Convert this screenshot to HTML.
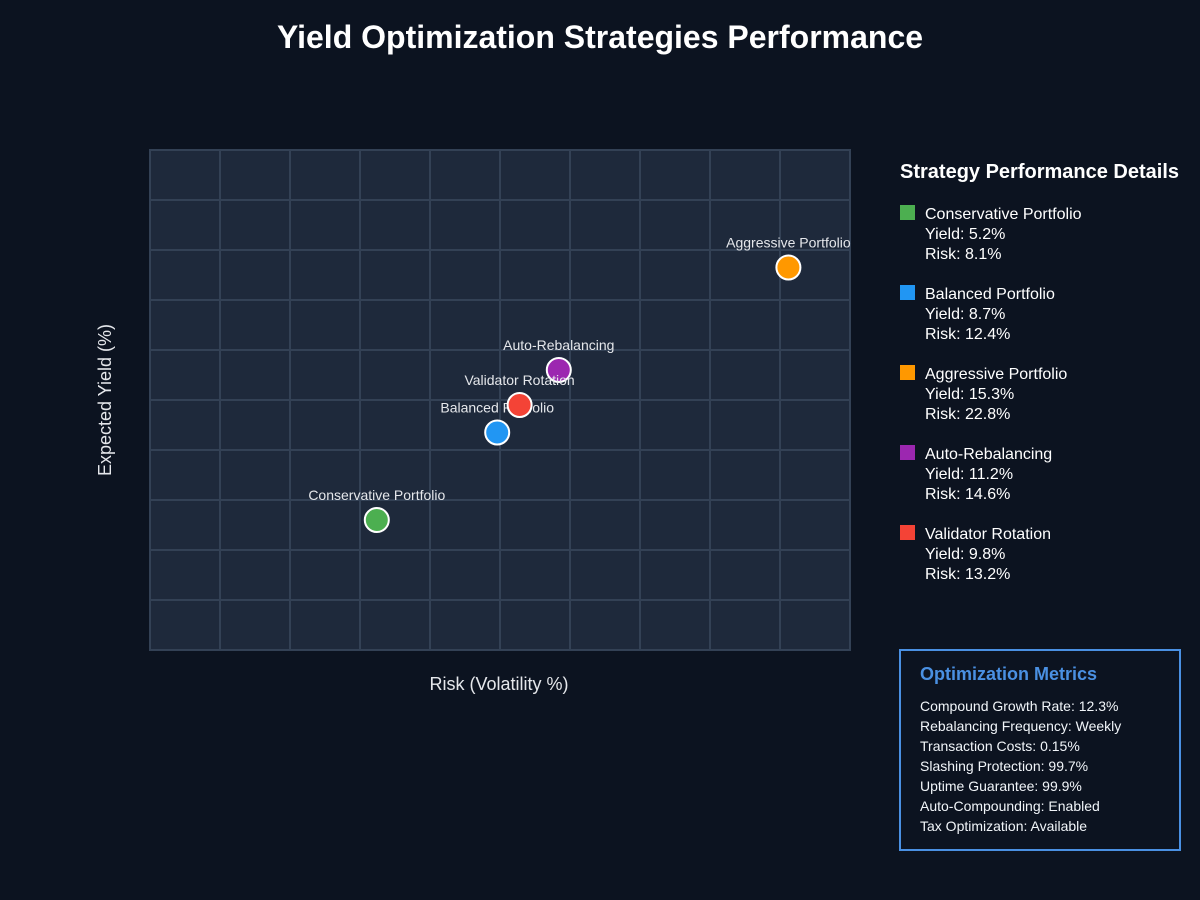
<!DOCTYPE html>
<html><head><meta charset="utf-8"><style>
body{margin:0;width:1200px;height:900px;background:#0c1320;font-family:"Liberation Sans",sans-serif;color:#fff;position:relative;overflow:hidden}
.t{position:absolute}
</style></head><body>
<div class="t" style="left:0;width:1200px;top:19px;text-align:center;font-size:32px;font-weight:bold">Yield Optimization Strategies Performance</div>
<svg class="t" style="left:0;top:0" width="1200" height="900">
<rect x="150" y="150" width="700" height="500" fill="#1e293b" stroke="#334155" stroke-width="2"/>
<g id="grid"></g>
<g id="pts"></g>
<text x="499" y="690" text-anchor="middle" font-size="18" fill="#e5e7eb">Risk (Volatility %)</text>
<text x="111" y="400" text-anchor="middle" font-size="18" fill="#e5e7eb" transform="rotate(-90 111 400)">Expected Yield (%)</text>
</svg>
<div class="t" style="left:900px;top:161px;font-size:20px;font-weight:bold">Strategy Performance Details</div>
<div id="legend"></div>
<div class="t" style="left:899px;top:649px;width:278px;height:198px;border:2px solid #4a90e2;background:#0c1320">
<div style="position:absolute;left:19px;top:13px;font-size:18px;font-weight:bold;color:#4a90e2">Optimization Metrics</div>
<div style="position:absolute;left:19px;top:45px;font-size:14px;line-height:20px;color:#f1f5f9">Compound Growth Rate: 12.3%<br>Rebalancing Frequency: Weekly<br>Transaction Costs: 0.15%<br>Slashing Protection: 99.7%<br>Uptime Guarantee: 99.9%<br>Auto-Compounding: Enabled<br>Tax Optimization: Available</div>
</div>
<script>
const names=["Conservative Portfolio","Balanced Portfolio","Aggressive Portfolio","Auto-Rebalancing","Validator Rotation"];
const yields=[5.2,8.7,15.3,11.2,9.8];
const risks=[8.1,12.4,22.8,14.6,13.2];
const colors=["#4caf50","#2196f3","#ff9800","#9c27b0","#f44336"];
const NS="http://www.w3.org/2000/svg";
const xs=v=>150+v/25*700, ys=v=>650-v/20*500;
const g=document.getElementById('grid');
for(let i=1;i<10;i++){
 let l=document.createElementNS(NS,'line');l.setAttribute('x1',150+i*70);l.setAttribute('x2',150+i*70);l.setAttribute('y1',150);l.setAttribute('y2',650);l.setAttribute('stroke','#334155');l.setAttribute('stroke-width','2');
 
 g.appendChild(l);
 let h=document.createElementNS(NS,'line');h.setAttribute('y1',150+i*50);h.setAttribute('y2',150+i*50);h.setAttribute('x1',150);h.setAttribute('x2',850);h.setAttribute('stroke','#334155');h.setAttribute('stroke-width','2');
 
 g.appendChild(h);
}
const p=document.getElementById('pts');
names.forEach((n,i)=>{
 const c=document.createElementNS(NS,'circle');c.setAttribute('cx',xs(risks[i]));c.setAttribute('cy',ys(yields[i]));c.setAttribute('r',12);c.setAttribute('fill',colors[i]);c.setAttribute('stroke','#fff');c.setAttribute('stroke-width','2');
 
 p.appendChild(c);
 const t=document.createElementNS(NS,'text');t.setAttribute('x',xs(risks[i]));t.setAttribute('y',ys(yields[i])-20);t.setAttribute('text-anchor','middle');t.setAttribute('font-size','14');t.setAttribute('fill','#e5e7eb');t.textContent=n;
 
 p.appendChild(t);
 const d=document.createElement('div');d.className='t';d.style.cssText=`left:900px;top:${205+i*80}px;font-size:16px;line-height:20px`;
 d.innerHTML=`<div style="position:absolute;left:0;top:0;width:15px;height:15px;background:${colors[i]}"></div><div style="position:absolute;left:25px;top:0;white-space:nowrap">${n}<br>Yield: ${yields[i]}%<br>Risk: ${risks[i]}%</div>`;
 
 
 document.body.appendChild(d);
});
</script>
</body></html>
